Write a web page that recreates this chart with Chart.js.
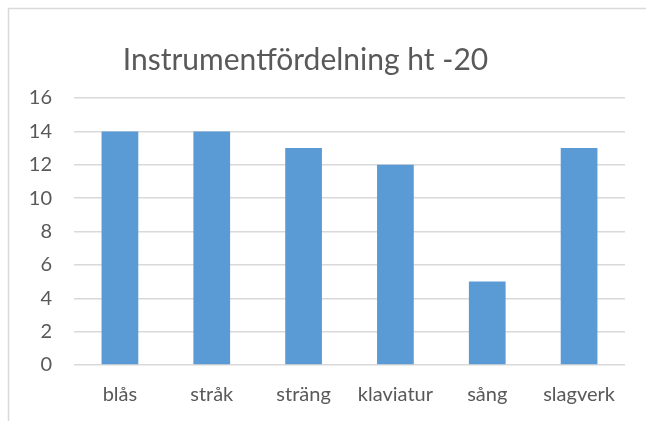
<!DOCTYPE html>
<html><head><meta charset="utf-8">
<script src="https://cdn.jsdelivr.net/npm/chart.js@4"></script>
<style>html,body{margin:0;padding:0;background:#fff;}#wrap{width:646px;height:421px;position:relative;}</style>
</head><body><div id="wrap"><canvas id="c" width="646" height="421"></canvas></div>
<script>
const categories = ["blås", "stråk", "sträng", "klaviatur", "sång", "slagverk"];
const values = [14, 14, 13, 12, 5, 13];
const titleText = "Instrumentfördelning ht -20";
const yMin = 0, yMax = 16, yStep = 2;

const FONT = "Lato, 'Liberation Sans', sans-serif";
const frame = {
  id: 'frame',
  beforeDraw(chart) {
    const ctx = chart.ctx;
    ctx.save();
    ctx.fillStyle = '#fff';
    ctx.fillRect(0, 0, chart.width, chart.height);
    ctx.strokeStyle = '#d9d9d9';
    ctx.lineWidth = 1.5;
    ctx.strokeRect(8.5, 8.5, 800, 600);
    ctx.restore();
  },
  afterLayout(chart) {
    const t = chart.titleBlock;
    if (t) { t.left -= 14; }
  }
};

new Chart(document.getElementById('c'), {
  type: 'bar',
  data: {
    labels: categories,
    datasets: [{ data: values, backgroundColor: '#5b9bd5', borderWidth: 0,
      categoryPercentage: 0.4, barPercentage: 1 }]
  },
  options: {
    responsive: false, animation: false,
    layout: { padding: { left: 0, right: 21, top: 0, bottom: 0 } },
    plugins: {
      legend: { display: false }, tooltip: { enabled: false },
      title: { display: true, text: titleText, color: '#595959',
        font: { family: FONT, size: 30, weight: 'normal' },
        padding: { top: 42, bottom: 20 } }
    },
    scales: {
      x: {
        grid: { display: false, drawTicks: false },
        border: { display: false },
        ticks: { color: '#595959', font: { family: FONT, size: 20 }, padding: 18, maxRotation: 0, autoSkip: false },
        afterFit(s) { s.height = 56; }
      },
      y: {
        min: yMin, max: yMax,
        grid: { color: '#d9d9d9', lineWidth: 1.5, drawTicks: false },
        border: { display: false },
        ticks: { stepSize: yStep, color: '#595959', font: { family: FONT, size: 20 }, padding: 22 },
        afterFit(s) { s.width = 74; }
      }
    }
  },
  plugins: [frame]
});
</script></body></html>
